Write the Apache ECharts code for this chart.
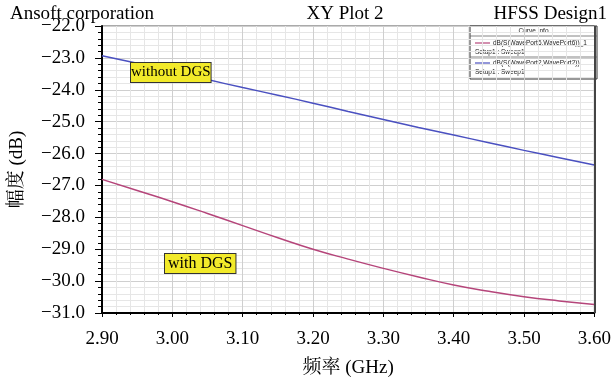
<!DOCTYPE html>
<html><head><meta charset="utf-8">
<script src="https://cdn.jsdelivr.net/npm/echarts@6/dist/echarts.min.js"></script>
<style>html,body{margin:0;padding:0;background:#fff}#c{width:614px;height:383px}</style>
</head><body><div id="c"></div>
<script>
var freqs = [2.90, 2.95, 3.00, 3.05, 3.10, 3.15, 3.20, 3.25, 3.30, 3.35, 3.40, 3.45, 3.50, 3.55, 3.60];
var withDGS = [-26.81, -27.16, -27.51, -27.88, -28.26, -28.64, -29.00, -29.31, -29.60, -29.87, -30.12, -30.32, -30.49, -30.62, -30.73];
var withoutDGS = [-22.93, -23.17, -23.42, -23.68, -23.93, -24.17, -24.42, -24.68, -24.93, -25.18, -25.42, -25.66, -25.90, -26.13, -26.36];
var seriesNames = ['dB(S(WavePort6,WavePort6))_1', 'dB(S(WavePort2,WavePort2))'];
var xTitle = '频率 (GHz)';
var yTitle = '幅度 (dB)';

var serif = 'Liberation Serif, "Noto Serif CJK SC", "Noto Sans CJK SC", serif';
var chart = echarts.init(document.getElementById('c'));
function pairs(ys){ return freqs.map(function(f,i){ return [f, ys[i]]; }); }
var pink = '#b5457a', blue = '#4a50c0';
var lx = 470, ly = 26, lw = 127, lh = 53;
var tfont = {fontFamily: serif, fontSize: 19, fontWeight: 'normal', color: '#000'};
chart.setOption({
  animation: false,
  textStyle: {fontFamily: serif},
  title: [
    {text: 'Ansoft corporation', left: 5, top: 0, textStyle: tfont},
    {text: 'XY Plot 2', left: 340, top: 0, textAlign: 'center', textStyle: tfont},
    {text: 'HFSS Design1', right: 2, top: 0, textStyle: tfont}
  ],
  grid: {left: 102, right: 19, top: 26, bottom: 70, show: true, borderColor: '#555', borderWidth: 1},
  xAxis: {
    type: 'value', min: 2.9, max: 3.6, interval: 0.1,
    name: xTitle, nameLocation: 'middle', nameGap: 46,
    nameTextStyle: {fontFamily: serif, fontSize: 19, color: '#000'},
    axisLine: {show: true, onZero: false, lineStyle: {color: '#000', width: 2}},
    axisTick: {show: true, inside: false, length: 4, lineStyle: {color: '#000'}},
    minorTick: {show: true, splitNumber: 5, length: 2, lineStyle: {color: '#000'}},
    axisLabel: {fontFamily: serif, fontSize: 19, color: '#000', margin: 17, formatter: function(v){ return v.toFixed(2); }},
    splitLine: {show: true, lineStyle: {color: '#cfcfcf', width: 1}},
    minorSplitLine: {show: true, lineStyle: {color: '#e6e6e6', width: 1}}
  },
  yAxis: {
    type: 'value', min: -31, max: -22, interval: 1,
    name: yTitle, nameLocation: 'middle', nameGap: 75, nameRotate: 90,
    nameTextStyle: {fontFamily: serif, fontSize: 19, color: '#000'},
    axisLine: {show: true, onZero: false, lineStyle: {color: '#000', width: 2}},
    axisTick: {show: true, inside: false, length: 7, lineStyle: {color: '#000'}},
    minorTick: {show: true, splitNumber: 5, length: 4, lineStyle: {color: '#000'}},
    axisLabel: {fontFamily: serif, fontSize: 19, color: '#000', margin: 17, formatter: function(v){ return (v < 0 ? '\u2212' : '') + Math.abs(v).toFixed(1); }},
    splitLine: {show: true, lineStyle: {color: '#cfcfcf', width: 1}},
    minorSplitLine: {show: true, lineStyle: {color: '#e6e6e6', width: 1}}
  },
  series: [
    {name: seriesNames[0], type: 'line', data: pairs(withDGS), smooth: true, showSymbol: false, lineStyle: {color: pink, width: 1.5}, itemStyle: {color: pink}},
    {name: seriesNames[1], type: 'line', data: pairs(withoutDGS), smooth: true, showSymbol: false, lineStyle: {color: blue, width: 1.5}, itemStyle: {color: blue}}
  ],
  graphic: [
    {type: 'line', shape: {x1: 595, y1: 26, x2: 595, y2: 313}, style: {stroke: '#444', lineWidth: 2}, z: 100},
    {type: 'text', left: 130, top: 62, z: 100, style: {text: 'without DGS', font: '15px ' + serif, fill: '#000', backgroundColor: '#f2ea2a', borderColor: '#333', borderWidth: 1, padding: [2, 0, 2, 0]}},
    {type: 'text', left: 164, top: 253, z: 100, style: {text: 'with DGS', font: '16px ' + serif, fill: '#000', backgroundColor: '#f2ea2a', borderColor: '#333', borderWidth: 1, padding: [2, 3, 1, 3]}},
    {type: 'group', z: 100, children: [
      {type: 'rect', shape: {x: lx, y: ly, width: lw, height: lh}, style: {fill: '#fff', stroke: '#333', lineWidth: 1}},
      {type: 'line', shape: {x1: lx, y1: ly + 10, x2: lx + lw, y2: ly + 10}, style: {stroke: '#666', lineWidth: 0.8}},
      {type: 'line', shape: {x1: lx, y1: ly + 31, x2: lx + lw, y2: ly + 31}, style: {stroke: '#666', lineWidth: 0.8}},
      {type: 'text', x: lx + lw / 2, y: ly + 2, style: {text: 'Curve Info', font: '6.5px Arial, sans-serif', fill: '#222', textAlign: 'center'}},
      {type: 'line', shape: {x1: lx + 5, y1: ly + 17, x2: lx + 20, y2: ly + 17}, style: {stroke: pink, lineWidth: 1.2}},
      {type: 'text', x: lx + 23, y: ly + 14, style: {text: seriesNames[0], font: '6.5px Arial, sans-serif', fill: '#222'}},
      {type: 'text', x: lx + 5, y: ly + 23, style: {text: 'Setup1 : Sweep1', font: '6.5px Arial, sans-serif', fill: '#222'}},
      {type: 'line', shape: {x1: lx + 5, y1: ly + 37, x2: lx + 20, y2: ly + 37}, style: {stroke: blue, lineWidth: 1.2}},
      {type: 'text', x: lx + 23, y: ly + 34, style: {text: seriesNames[1], font: '6.5px Arial, sans-serif', fill: '#222'}},
      {type: 'text', x: lx + 5, y: ly + 43, style: {text: 'Setup1 : Sweep1', font: '6.5px Arial, sans-serif', fill: '#222'}}
    ]}
  ]
});
</script></body></html>
